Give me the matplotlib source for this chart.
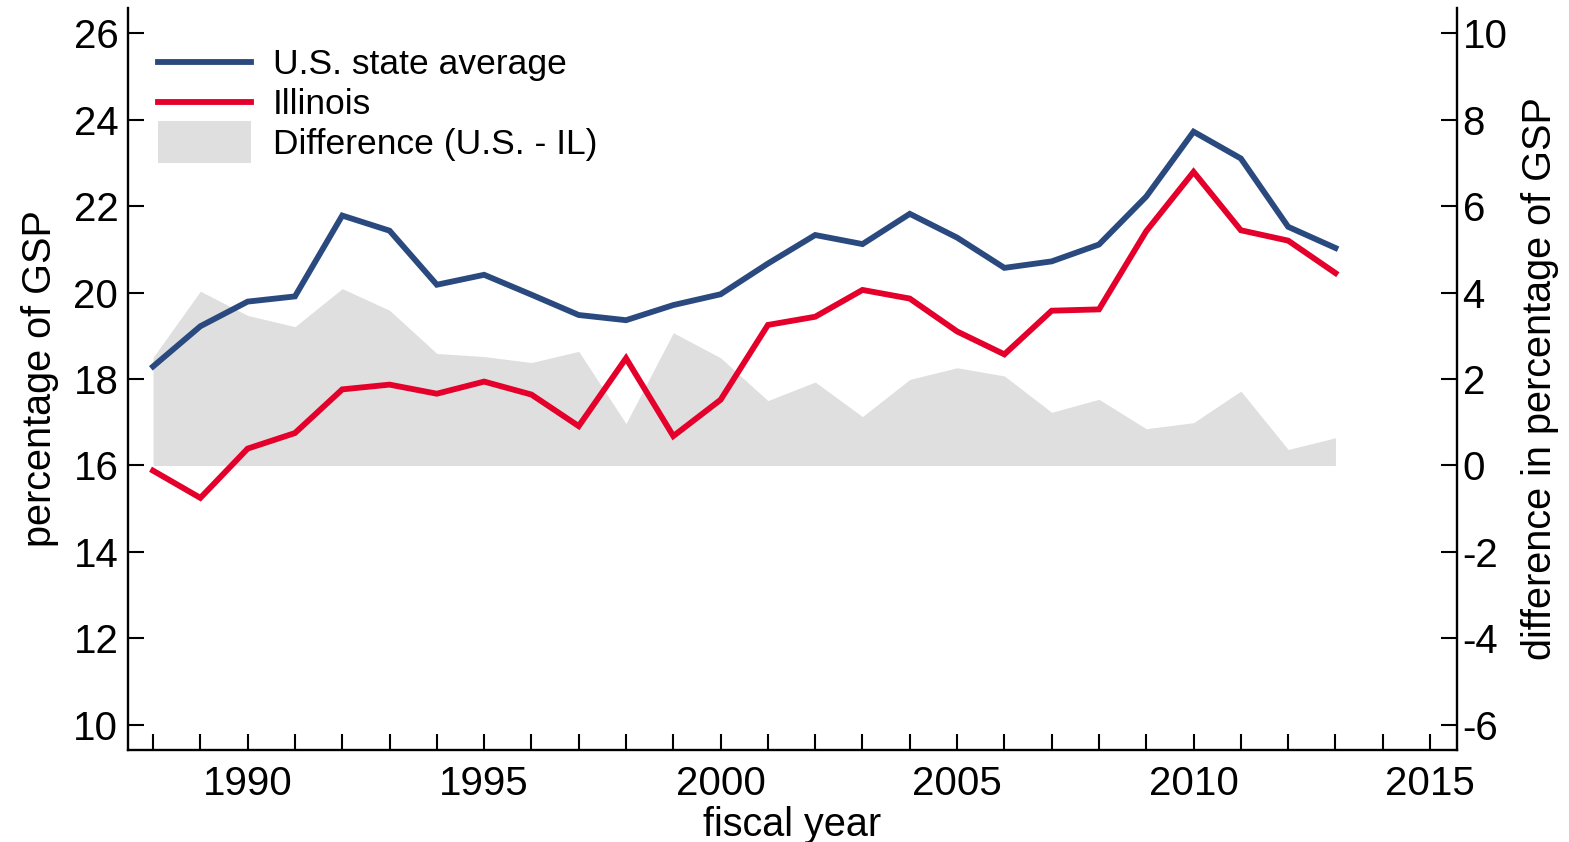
import matplotlib
matplotlib.use("Agg")
import matplotlib.pyplot as plt
from matplotlib.lines import Line2D
from matplotlib.patches import Patch, Rectangle
from matplotlib.legend_handler import HandlerPatch
from matplotlib.ticker import MultipleLocator

plt.rcParams['font.family'] = ['Liberation Sans', 'DejaVu Sans']
plt.rcParams['axes.unicode_minus'] = False

years = list(range(1988, 2014))
us_avg = [18.29, 19.22, 19.79, 19.91, 21.78, 21.43, 20.18, 20.41, 19.95, 19.48,
          19.36, 19.71, 19.96, 20.67, 21.33, 21.12, 21.82, 21.27, 20.57, 20.72,
          21.11, 22.22, 23.72, 23.10, 21.52, 21.03]
illinois = [15.88, 15.25, 16.39, 16.75, 17.76, 17.87, 17.66, 17.94, 17.64, 16.91,
            18.48, 16.68, 17.52, 19.25, 19.44, 20.06, 19.86, 19.10, 18.57, 19.58,
            19.61, 21.42, 22.79, 21.44, 21.20, 20.45]
difference = [2.50, 4.03, 3.47, 3.21, 4.09, 3.59, 2.59, 2.52, 2.38, 2.64,
              0.97, 3.07, 2.49, 1.50, 1.93, 1.13, 1.99, 2.26, 2.07, 1.23,
              1.53, 0.85, 0.99, 1.72, 0.37, 0.64]

left_ticks = [10, 12, 14, 16, 18, 20, 22, 24, 26]
right_ticks = [-6, -4, -2, 0, 2, 4, 6, 8, 10]

blue = '#2A4A7F'
red = '#E4002B'
gray = '#DFDFDF'

W, H = 1569, 842
fig = plt.figure(figsize=(W / 100, H / 100), dpi=100)
ax = fig.add_axes([128 / W, 1 - 750 / H, (1457 - 128) / W, (750 - 8) / H])
ax2 = ax.twinx()

ax2.fill_between(years, 0, difference, color=gray, lw=0)
ax.plot(years, us_avg, color=blue, lw=4.2, solid_joinstyle='miter')
ax.plot(years, illinois, color=red, lw=4.2, solid_joinstyle='miter')

ax.set_zorder(ax2.get_zorder() + 1)
ax.patch.set_visible(False)

ylo, yhi = 9.42, 26.58
ax.set_ylim(ylo, yhi)
ax2.set_ylim(ylo - 16, yhi - 16)
ax.set_xlim(1987.47, 2015.57)

ax.set_yticks(left_ticks)
ax2.set_yticks(right_ticks)
ax.xaxis.set_major_locator(MultipleLocator(5))
ax.xaxis.set_minor_locator(MultipleLocator(1))

for a in (ax, ax2):
    a.spines['top'].set_visible(False)
    for s in a.spines.values():
        s.set_linewidth(1.7)
ax.spines['right'].set_visible(False)
ax2.spines['left'].set_visible(False)
ax2.spines['bottom'].set_visible(False)

ax.tick_params(axis='both', which='both', direction='in', length=11.5, width=1.5,
               labelsize=29, top=False, right=False)
ax.tick_params(axis='y', pad=7)
ax.tick_params(axis='x', pad=11)
ax2.tick_params(axis='y', direction='in', length=11.5, width=1.5, labelsize=29,
                left=False, right=True, pad=4)

ax.set_xlabel('fiscal year', fontsize=28.5, labelpad=2)
ax.set_ylabel('percentage of GSP', fontsize=28.5, labelpad=10)
ax2.set_ylabel('difference in percentage of GSP', fontsize=28.5, labelpad=10)


def tall_patch(legend, orig_handle, xdescent, ydescent, width, height, fontsize):
    extra = 0.25 * fontsize
    return Rectangle((-xdescent, -ydescent - extra), width, height + 2 * extra)


handles = [Line2D([], [], color=blue, lw=4.2),
           Line2D([], [], color=red, lw=4.2),
           Patch(facecolor=gray, edgecolor='none')]
labels = ['U.S. state average', 'Illinois', 'Difference (U.S. - IL)']
leg = ax.legend(handles, labels, loc='upper left',
                bbox_to_anchor=(158 / W, 1 - 48 / H), bbox_transform=fig.transFigure,
                frameon=False, fontsize=25.5, handlelength=2.63, handletextpad=0.62,
                labelspacing=0.2, borderpad=0, borderaxespad=0,
                handler_map={Patch: HandlerPatch(patch_func=tall_patch)})

fig.savefig('out.png', dpi=100)
